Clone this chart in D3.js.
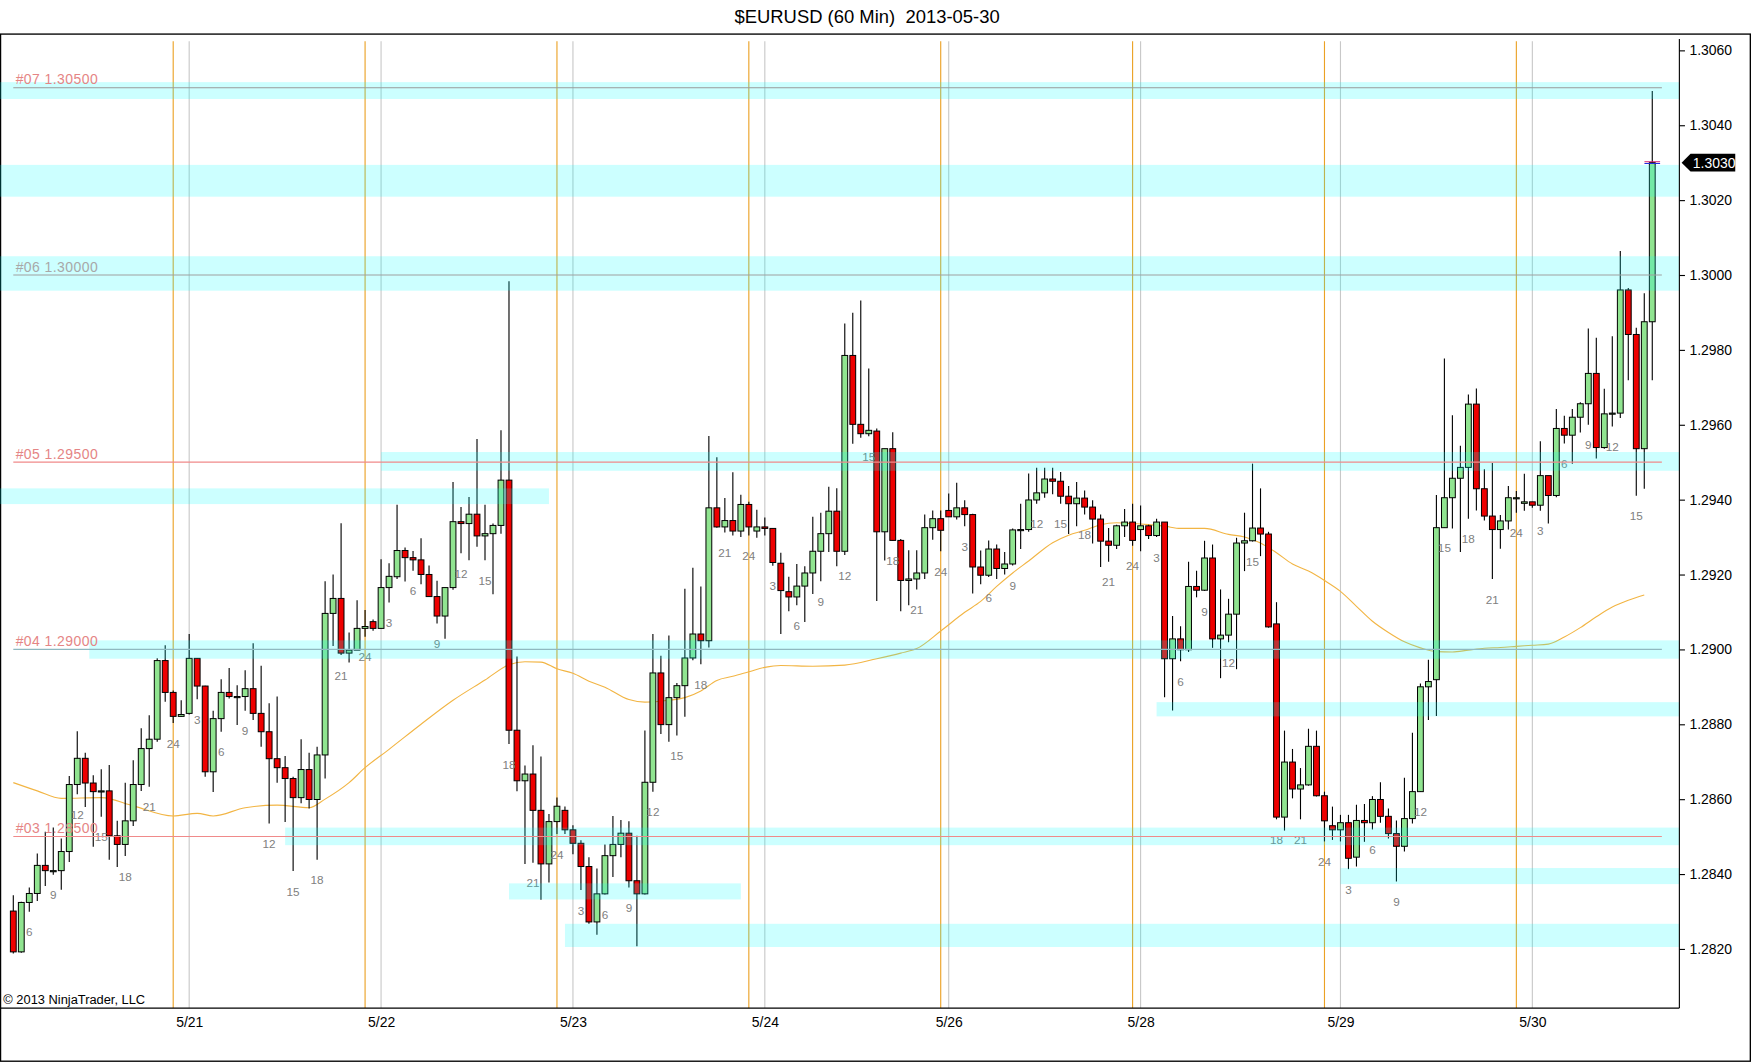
<!DOCTYPE html>
<html>
<head>
<meta charset="utf-8">
<script src="https://cdn.jsdelivr.net/npm/d3@7"></script>
<style>
  html, body { margin: 0; padding: 0; background: #fff; }
  svg { display: block; }
  text { font-family: Arial, "Liberation Sans", sans-serif; white-space: pre; }
</style>
</head>
<body>
<div class="chart"></div>
<script>
// hourly candles, bar 0 is hour 4 of 5/20
const firstHour = 4
const opens = [1.28301,1.28192,1.28324,1.28348,1.28423,1.28409,1.28409,1.28460,1.28639,1.28709,1.28643,1.28620,1.28622,1.28502,1.28479,1.28542,1.28639,1.28735,1.28760,1.28970,
  1.28885,1.28821,1.28829,1.28976,1.28902,1.28673,1.28815,1.28885,1.28874,1.28874,1.28895,1.28829,1.28780,1.28708,1.28684,1.28655,1.28604,1.28679,1.28599,1.28718,
  1.29096,1.29136,1.28990,1.28998,1.29056,1.29074,1.29056,1.29165,1.29194,1.29264,1.29245,1.29239,1.29200,1.29141,1.29089,1.29165,1.29341,1.29336,1.29361,1.29303,
  1.29309,1.29331,1.29452,1.28784,1.28649,1.28667,1.28570,1.28427,1.28540,1.28570,1.28518,1.28482,1.28420,1.28272,1.28347,1.28449,1.28479,1.28509,1.28382,1.28347,
  1.28645,1.28937,1.28799,1.28871,1.28903,1.28977,1.29041,1.29023,1.29378,1.29327,1.29344,1.29316,1.29387,1.29316,1.29327,1.29323,1.29230,1.29154,1.29140,1.29169,
  1.29204,1.29262,1.29309,1.29369,1.29262,1.29785,1.29601,1.29576,1.29583,1.29314,1.29536,1.29291,1.29184,1.29188,1.29204,1.29325,1.29349,1.29371,1.29354,1.29378,
  1.29360,1.29220,1.29198,1.29268,1.29216,1.29228,1.29319,1.29320,1.29399,1.29418,1.29455,1.29449,1.29409,1.29389,1.29404,1.29380,1.29348,1.29289,1.29278,1.29330,
  1.29340,1.29320,1.29330,1.29304,1.29340,1.28975,1.29028,1.28999,1.29168,1.29158,1.29244,1.29028,1.29038,1.29094,1.29284,1.29290,1.29324,1.29308,1.29068,1.28552,
  1.28699,1.28627,1.28638,1.28741,1.28609,1.28529,1.28518,1.28537,1.28445,1.28543,1.28537,1.28599,1.28554,1.28508,1.28474,1.28548,1.28620,1.28900,1.28919,1.29325,
  1.29405,1.29457,1.29486,1.29655,1.29429,1.29356,1.29320,1.29343,1.29405,1.29390,1.29394,1.29385,1.29464,1.29411,1.29590,1.29572,1.29620,1.29656,1.29737,1.29539,
  1.29629,1.29631,1.29960,1.29841,1.29536,1.29875]
const highs = [1.28343,1.28326,1.28364,1.28455,1.28513,1.28524,1.28495,1.28662,1.28781,1.28724,1.28664,1.28680,1.28691,1.28542,1.28644,1.28704,1.28789,1.28824,1.28976,1.29011,
  1.28890,1.28864,1.29041,1.28976,1.28903,1.28836,1.28920,1.28950,1.28904,1.28944,1.29016,1.28956,1.28856,1.28874,1.28715,1.28660,1.28760,1.28724,1.28740,1.29182,
  1.29200,1.29337,1.29045,1.29131,1.29105,1.29080,1.29241,1.29230,1.29386,1.29272,1.29263,1.29297,1.29224,1.29183,1.29165,1.29447,1.29380,1.29407,1.29562,1.29386,
  1.29336,1.29585,1.29983,1.28981,1.28690,1.28744,1.28714,1.28560,1.28604,1.28580,1.28530,1.28490,1.28445,1.28415,1.28479,1.28555,1.28544,1.28541,1.28502,1.28783,
  1.29041,1.28983,1.29037,1.28910,1.29162,1.29218,1.29168,1.29570,1.29513,1.29404,1.29473,1.29413,1.29394,1.29373,1.29352,1.29323,1.29258,1.29194,1.29228,1.29222,
  1.29354,1.29365,1.29434,1.29430,1.29870,1.29899,1.29932,1.29750,1.29590,1.29536,1.29580,1.29295,1.29265,1.29265,1.29360,1.29371,1.29371,1.29416,1.29445,1.29398,
  1.29362,1.29264,1.29291,1.29280,1.29260,1.29323,1.29389,1.29470,1.29485,1.29485,1.29485,1.29474,1.29436,1.29447,1.29424,1.29398,1.29360,1.29324,1.29333,1.29375,
  1.29389,1.29384,1.29333,1.29349,1.29340,1.29089,1.29062,1.29234,1.29210,1.29290,1.29280,1.29160,1.29135,1.29298,1.29365,1.29496,1.29430,1.29314,1.29126,1.28783,
  1.28734,1.28683,1.28788,1.28783,1.28620,1.28580,1.28558,1.28558,1.28585,1.28587,1.28608,1.28645,1.28575,1.28543,1.28657,1.28777,1.28909,1.28972,1.29412,1.29777,
  1.29625,1.29544,1.29681,1.29697,1.29481,1.29498,1.29359,1.29436,1.29423,1.29469,1.29394,1.29556,1.29464,1.29642,1.29624,1.29642,1.29660,1.29857,1.29832,1.29696,
  1.29836,1.30064,1.29965,1.29859,1.29951,1.30491]
const lows = [1.28188,1.28190,1.28299,1.28328,1.28368,1.28398,1.28358,1.28432,1.28613,1.28579,1.28473,1.28553,1.28438,1.28419,1.28448,1.28528,1.28622,1.28633,1.28753,1.28860,
  1.28803,1.28820,1.28826,1.28867,1.28660,1.28619,1.28780,1.28869,1.28798,1.28836,1.28811,1.28740,1.28535,1.28644,1.28539,1.28408,1.28589,1.28575,1.28438,1.28655,
  1.29009,1.28985,1.28965,1.28998,1.29034,1.29050,1.29055,1.29125,1.29188,1.29181,1.29210,1.29174,1.29141,1.29069,1.29028,1.29159,1.29257,1.29238,1.29274,1.29238,
  1.29147,1.29309,1.28747,1.28621,1.28427,1.28430,1.28331,1.28377,1.28507,1.28507,1.28453,1.28357,1.28267,1.28238,1.28345,1.28392,1.28445,1.28364,1.28207,1.28345,
  1.28620,1.28774,1.28753,1.28770,1.28820,1.28971,1.28960,1.29005,1.29325,1.29312,1.29304,1.29300,1.29304,1.29298,1.29304,1.29223,1.29041,1.29102,1.29118,1.29073,
  1.29148,1.29182,1.29260,1.29222,1.29252,1.29549,1.29565,1.29569,1.29129,1.29237,1.29290,1.29102,1.29118,1.29160,1.29188,1.29293,1.29262,1.29354,1.29347,1.29329,
  1.29149,1.29174,1.29193,1.29188,1.29200,1.29224,1.29268,1.29314,1.29389,1.29405,1.29414,1.29389,1.29308,1.29329,1.29360,1.29283,1.29220,1.29234,1.29268,1.29300,
  1.29277,1.29262,1.29295,1.29300,1.28872,1.28837,1.28968,1.28993,1.29139,1.29156,1.29004,1.28923,1.29019,1.28947,1.29209,1.29288,1.29249,1.29058,1.28546,1.28516,
  1.28602,1.28546,1.28636,1.28607,1.28487,1.28491,1.28487,1.28413,1.28420,1.28486,1.28519,1.28537,1.28495,1.28380,1.28460,1.28535,1.28620,1.28811,1.28822,1.29325,
  1.29323,1.29260,1.29349,1.29371,1.29344,1.29188,1.29269,1.29320,1.29365,1.29370,1.29378,1.29370,1.29336,1.29406,1.29550,1.29496,1.29579,1.29600,1.29510,1.29536,
  1.29595,1.29618,1.29719,1.29410,1.29429,1.29719]
const closes = [1.28192,1.28324,1.28348,1.28423,1.28409,1.28409,1.28460,1.28639,1.28709,1.28643,1.28620,1.28622,1.28502,1.28479,1.28542,1.28639,1.28735,1.28760,1.28970,1.28885,
  1.28821,1.28826,1.28976,1.28902,1.28673,1.28815,1.28885,1.28874,1.28874,1.28895,1.28829,1.28780,1.28708,1.28684,1.28655,1.28604,1.28679,1.28599,1.28718,1.29096,
  1.29136,1.28990,1.28998,1.29056,1.29061,1.29056,1.29165,1.29195,1.29264,1.29245,1.29239,1.29200,1.29141,1.29089,1.29165,1.29341,1.29336,1.29361,1.29303,1.29309,
  1.29331,1.29452,1.28784,1.28649,1.28667,1.28570,1.28427,1.28540,1.28581,1.28518,1.28482,1.28420,1.28272,1.28347,1.28449,1.28479,1.28509,1.28382,1.28347,1.28645,
  1.28937,1.28799,1.28871,1.28903,1.28977,1.29041,1.29023,1.29378,1.29327,1.29344,1.29316,1.29387,1.29327,1.29327,1.29323,1.29232,1.29157,1.29140,1.29169,1.29204,
  1.29262,1.29309,1.29369,1.29262,1.29785,1.29601,1.29576,1.29585,1.29314,1.29536,1.29291,1.29184,1.29188,1.29204,1.29325,1.29349,1.29318,1.29354,1.29378,1.29360,
  1.29220,1.29198,1.29268,1.29216,1.29228,1.29319,1.29320,1.29399,1.29418,1.29455,1.29449,1.29409,1.29389,1.29404,1.29380,1.29348,1.29289,1.29278,1.29330,1.29340,
  1.29291,1.29330,1.29304,1.29340,1.28975,1.29028,1.28999,1.29168,1.29158,1.29244,1.29028,1.29038,1.29094,1.29284,1.29290,1.29324,1.29308,1.29060,1.28552,1.28699,
  1.28627,1.28638,1.28741,1.28609,1.28542,1.28518,1.28537,1.28442,1.28543,1.28537,1.28599,1.28554,1.28508,1.28474,1.28548,1.28620,1.28900,1.28914,1.29325,1.29405,
  1.29457,1.29486,1.29655,1.29429,1.29356,1.29320,1.29343,1.29405,1.29405,1.29394,1.29385,1.29464,1.29411,1.29590,1.29572,1.29620,1.29656,1.29737,1.29539,1.29629,
  1.29631,1.29960,1.29841,1.29536,1.29875,1.30300]

// moving average, read at these bars
const maBars = [0,3,6,11,15,20,23,25,29,33,37,39,42,44,47,51,55,59,62,64,66,68,70,72,74,77,79,82,84,86,88,90,92,94,96,100,104,108,111,113,116,119,121,123,125,127,130,132,134,136,138,140,142,144,146,149,152,154,156,158,160,162,164,166,168,170,172,174,176,178,180,182,184,186,188,190,192,194,196,198,200,202,204]
const maValues = [1.28644,1.28622,1.28602,1.28604,1.28582,1.28555,1.28562,1.28555,1.28577,1.28584,1.28577,1.28600,1.28644,1.28684,1.28733,1.28800,1.28864,1.28918,1.28959,1.28967,1.28966,1.28948,1.28936,1.28915,1.28899,1.28866,1.28859,1.28864,1.28871,1.28889,1.28917,1.28928,1.28940,1.28952,1.28957,1.28955,1.28958,1.28975,1.28990,1.29002,1.29049,1.29099,1.29128,1.29168,1.29204,1.29236,1.29285,1.29305,1.29318,1.29333,1.29338,1.29336,1.29333,1.29329,1.29323,1.29323,1.29307,1.29300,1.29284,1.29258,1.29228,1.29209,1.29184,1.29155,1.29115,1.29075,1.29045,1.29020,1.29004,1.28994,1.28993,1.28998,1.29003,1.29005,1.29008,1.29011,1.29014,1.29033,1.29058,1.29087,1.29113,1.29131,1.29145]

// supply / demand zones (null = chart edge)
const zoneLo = [1.30470,1.30209,1.29958,1.29477,1.29388,1.28975,1.28821,1.28477,1.28373,1.28332,1.28205]
const zoneHi = [1.30515,1.30294,1.30050,1.29527,1.29430,1.29024,1.28859,1.28524,1.28416,1.28375,1.28267]
const zoneFrom = [null,null,null,46,null,9.5,143,34,166,62,69]
const zoneTo = [null,null,null,null,67,null,null,null,null,91,null]

// price levels
const levelNames = ["#07","#06","#05","#04","#03"]
const levelPrices = [1.305,1.300,1.295,1.290,1.285]

// x axis
const dateBars = [22,46,70,94,117,141,166,190]
const dateLabels = ["5/21","5/22","5/23","5/24","5/26","5/28","5/29","5/30"]
const sessionBars = [20,44,68,92,116,140,164,188]
const priceTicks = [1.282,1.284,1.286,1.288,1.290,1.292,1.294,1.296,1.298,1.300,1.302,1.304,1.306]

const levelTextColor = ["#e58585","#a8a8a8","#e58585","#e58585","#e58585"]
const levelLineColor = ["#9a9a9a","#a0a0a0","#f08a8a","#8fb8c0","#f08a8a"]

const W = 1568, H = 952
const plotRight = 1503, plotTop = 30, plotBottom = 902

let svg = d3.select(".chart")
    .append("svg")
    .attr("width", 1752)
    .attr("height", 1064)
    .attr("viewBox", `0 0 ${W} ${H}`)
    .attr("preserveAspectRatio", "none")

svg.append("rect").attr("width", W).attr("height", H).attr("fill", "#fff")

svg.append("text")
    .attr("x", 776).attr("y", 21)
    .attr("text-anchor", "middle")
    .attr("font-size", 16.5)
    .text("$EURUSD (60 Min)  2013-05-30")

svg.append("rect")
    .attr("x", 0.5).attr("y", 30.5)
    .attr("width", 1566).attr("height", 919)
    .attr("fill", "none").attr("stroke", "#000").attr("stroke-width", 1.2)

const bars = opens.map((o, i) => ({i, o, h: highs[i], l: lows[i], c: closes[i]}))

let xScale = d3.scaleLinear().domain([-1.6632, 208.39]).range([0, plotRight])
let yScale = d3.scaleLinear().domain([1.280418, 1.306448]).range([plotBottom, plotTop])

svg.append("defs").append("clipPath").attr("id", "clip")
    .append("rect").attr("x", 0).attr("y", plotTop).attr("width", plotRight).attr("height", plotBottom - plotTop)

let plot = svg.append("g").attr("clip-path", "url(#clip)")

// date and session lines
plot.selectAll(".dline").data(dateBars).enter().append("line")
    .attr("x1", d => xScale(d)).attr("x2", d => xScale(d))
    .attr("y1", 37).attr("y2", plotBottom)
    .attr("stroke", "#c8c8c8").attr("stroke-width", 1)
plot.selectAll(".sline").data(sessionBars).enter().append("line")
    .attr("x1", d => xScale(d)).attr("x2", d => xScale(d))
    .attr("y1", 37).attr("y2", plotBottom)
    .attr("stroke", "#eba124").attr("stroke-width", 1)

// moving average
const ma = maBars.map((b, k) => [b, maValues[k]])
plot.append("path")
    .datum(ma)
    .attr("fill", "none")
    .attr("stroke", "#f2b544")
    .attr("stroke-width", 1)
    .attr("d", d3.line().x(d => xScale(d[0])).y(d => yScale(d[1])).curve(d3.curveMonotoneX))

// candles
const bw = 5.2
let candle = plot.selectAll(".candle").data(bars).enter().append("g")
candle.append("line")
    .attr("x1", d => xScale(d.i)).attr("x2", d => xScale(d.i))
    .attr("y1", d => yScale(d.h)).attr("y2", d => yScale(d.l))
    .attr("stroke", "#000").attr("stroke-width", 1)
candle.append("rect")
    .attr("x", d => xScale(d.i) - bw / 2)
    .attr("width", bw)
    .attr("y", d => yScale(Math.max(d.o, d.c)))
    .attr("height", d => Math.max(1, Math.abs(yScale(d.o) - yScale(d.c))))
    .attr("fill", d => d.c >= d.o ? "#90e490" : "#ee0000")
    .attr("stroke", "#000").attr("stroke-width", 0.9)

// hour labels under every third bar
plot.selectAll(".hour").data(bars.filter(d => (firstHour + d.i) % 3 === 0)).enter().append("text")
    .attr("x", d => xScale(d.i))
    .attr("y", d => yScale(d.l) + 22)
    .attr("text-anchor", "middle")
    .attr("font-family", "'DejaVu Sans', Verdana, sans-serif")
    .attr("font-size", 10.5)
    .attr("fill", "#808080")
    .text(d => ((firstHour + d.i) % 24) || 24)

// zones sit on top, see-through
plot.selectAll(".zone").data(zoneLo).enter().append("rect")
    .attr("x", (d, k) => zoneFrom[k] === null ? 0 : xScale(zoneFrom[k]))
    .attr("width", (d, k) => (zoneTo[k] === null ? plotRight : xScale(zoneTo[k])) - (zoneFrom[k] === null ? 0 : xScale(zoneFrom[k])))
    .attr("y", (d, k) => yScale(zoneHi[k]))
    .attr("height", (d, k) => yScale(zoneLo[k]) - yScale(zoneHi[k]))
    .attr("fill", "#00ffff").attr("fill-opacity", 0.2)

// levels
plot.selectAll(".level").data(levelPrices).enter().append("line")
    .attr("x1", xScale(0)).attr("x2", xScale(206.2))
    .attr("y1", d => yScale(d)).attr("y2", d => yScale(d))
    .attr("stroke", (d, k) => levelLineColor[k]).attr("stroke-width", 1)
plot.selectAll(".ltext").data(levelPrices).enter().append("text")
    .attr("x", 14).attr("y", d => yScale(d) - 3)
    .attr("font-family", "'DejaVu Sans', Verdana, sans-serif")
    .attr("font-size", 12.5)
    .attr("letter-spacing", 0.4)
    .attr("fill", (d, k) => levelTextColor[k])
    .text((d, k) => levelNames[k] + " " + d3.format(".5f")(d))

// last close marker
const last = bars[bars.length - 1]
plot.append("line")
    .attr("x1", xScale(last.i) - 7).attr("x2", xScale(last.i) + 7)
    .attr("y1", yScale(last.c) - 0.8).attr("y2", yScale(last.c) - 0.8)
    .attr("stroke", "#d02070").attr("stroke-width", 1)
plot.append("line")
    .attr("x1", xScale(last.i) - 7).attr("x2", xScale(last.i) + 7)
    .attr("y1", yScale(last.c) + 0.8).attr("y2", yScale(last.c) + 0.8)
    .attr("stroke", "#2030e0").attr("stroke-width", 1)

// axes
svg.append("line")
    .attr("x1", 0).attr("x2", plotRight).attr("y1", plotBottom).attr("y2", plotBottom)
    .attr("stroke", "#000").attr("stroke-width", 1)

let yAxis = d3.axisRight(yScale).tickValues(priceTicks).tickFormat(d3.format(".4f")).tickSize(5).tickPadding(4)
let yAxisGroup = svg.append("g")
    .attr("class", "axis y-axis")
    .attr("transform", `translate(${plotRight},0)`)
    .call(yAxis)
yAxisGroup.select(".domain").attr("d", `M0,35V${plotBottom}`).attr("stroke", "#000")
yAxisGroup.selectAll("text").attr("font-size", 12.5).attr("font-family", "Arial, 'Liberation Sans', sans-serif").attr("fill", "#000")

let xAxis = d3.axisBottom(xScale).tickValues(dateBars).tickFormat((d, k) => dateLabels[k]).tickSize(0).tickPadding(8)
let xAxisGroup = svg.append("g")
    .attr("class", "axis x-axis")
    .attr("transform", `translate(0,${plotBottom})`)
    .call(xAxis)
xAxisGroup.select(".domain").remove()
xAxisGroup.selectAll("text").attr("font-size", 12.5).attr("font-family", "Arial, 'Liberation Sans', sans-serif").attr("fill", "#000")

// last price tag
const ty = yScale(last.c)
svg.append("path")
    .attr("d", `M${plotRight + 2},${ty} L${plotRight + 10},${ty - 8} H1553 V${ty + 8} H${plotRight + 10} Z`)
    .attr("fill", "#000")
svg.append("text")
    .attr("x", plotRight + 12).attr("y", ty + 4.5)
    .attr("font-size", 12.5).attr("fill", "#fff")
    .text(d3.format(".4f")(last.c))

svg.append("text")
    .attr("x", 3).attr("y", 898)
    .attr("font-size", 11.5)
    .text("\u00a9 2013 NinjaTrader, LLC")
</script>
</body>
</html>
